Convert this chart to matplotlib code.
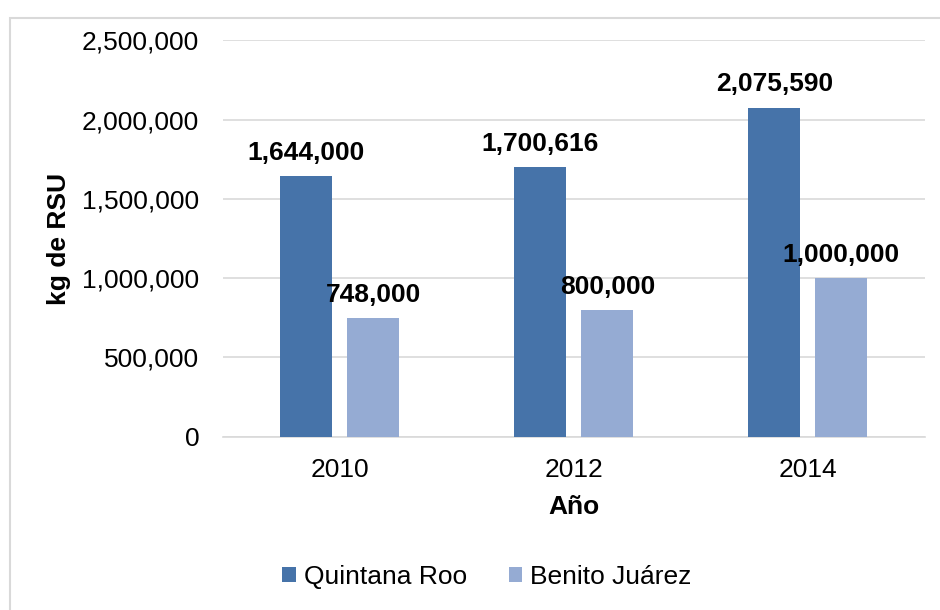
import matplotlib
matplotlib.use("Agg")
import matplotlib.pyplot as plt
import numpy as np
from matplotlib.patches import Rectangle
from matplotlib.ticker import FuncFormatter

plt.rcParams['font.family'] = ['Liberation Sans', 'DejaVu Sans']

years = ["2010", "2012", "2014"]
quintana_roo = [1644000, 1700616, 2075590]
benito_juarez = [748000, 800000, 1000000]
series_names = ["Quintana Roo", "Benito Juárez"]
colors = ["#4673A9", "#95ABD3"]

FS = 19

fig = plt.figure(figsize=(9.4, 6.1), dpi=100)
ax = fig.add_axes([0.237, 0.284, 0.747, 0.65])

# chart border
fig.patches.append(Rectangle((10/940, -0.1), 1.1, 1 - 18/610 + 0.1, transform=fig.transFigure,
                             fill=False, edgecolor="#D9D9D9", linewidth=1.5, zorder=0))

x = np.arange(len(years))
w = 0.222
off = 0.143
b1 = ax.bar(x - off, quintana_roo, w, color=colors[0], label=series_names[0], zorder=3)
b2 = ax.bar(x + off, benito_juarez, w, color=colors[1], label=series_names[1], zorder=3)

for bars, vals in ((b1, quintana_roo), (b2, benito_juarez)):
    for r, v in zip(bars, vals):
        ax.annotate(f"{v:,}", (r.get_x() + r.get_width()/2, v), xytext=(0, 8),
                    textcoords="offset points", ha="center", va="bottom",
                    fontsize=FS, fontweight="bold", color="black")

ax.set_xlim(-0.5, 2.5)
ax.set_ylim(0, 2500000)
ax.set_yticks(np.arange(0, 2500001, 500000))
ax.yaxis.set_major_formatter(FuncFormatter(lambda v, p: f"{int(v):,}"))
ax.set_xticks(x)
ax.set_xticklabels(years)
ax.tick_params(axis="y", length=0, pad=17, labelsize=FS)
ax.tick_params(axis="x", length=0, pad=15, labelsize=FS)
ax.grid(axis="y", color="#D9D9D9", linewidth=1.2, zorder=0)
ax.set_axisbelow(True)
for s in ["top", "right", "left"]:
    ax.spines[s].set_visible(False)
ax.spines["bottom"].set_color("#D9D9D9")
ax.spines["bottom"].set_linewidth(1.2)

ax.set_xlabel("Año", fontsize=FS, fontweight="bold", labelpad=10)
ax.set_ylabel("kg de RSU", fontsize=FS, fontweight="bold")
ax.yaxis.set_label_coords((71 - 223) / 702, 0.5)

fig.legend(handles=[b1, b2], labels=series_names, loc="center", bbox_to_anchor=(0.518, 1 - 577/610),
           ncol=2, frameon=False, fontsize=FS, handlelength=0.5, handleheight=0.5,
           handletextpad=0.3, columnspacing=1.6)

fig.savefig("out.png", dpi=100, facecolor="white")
